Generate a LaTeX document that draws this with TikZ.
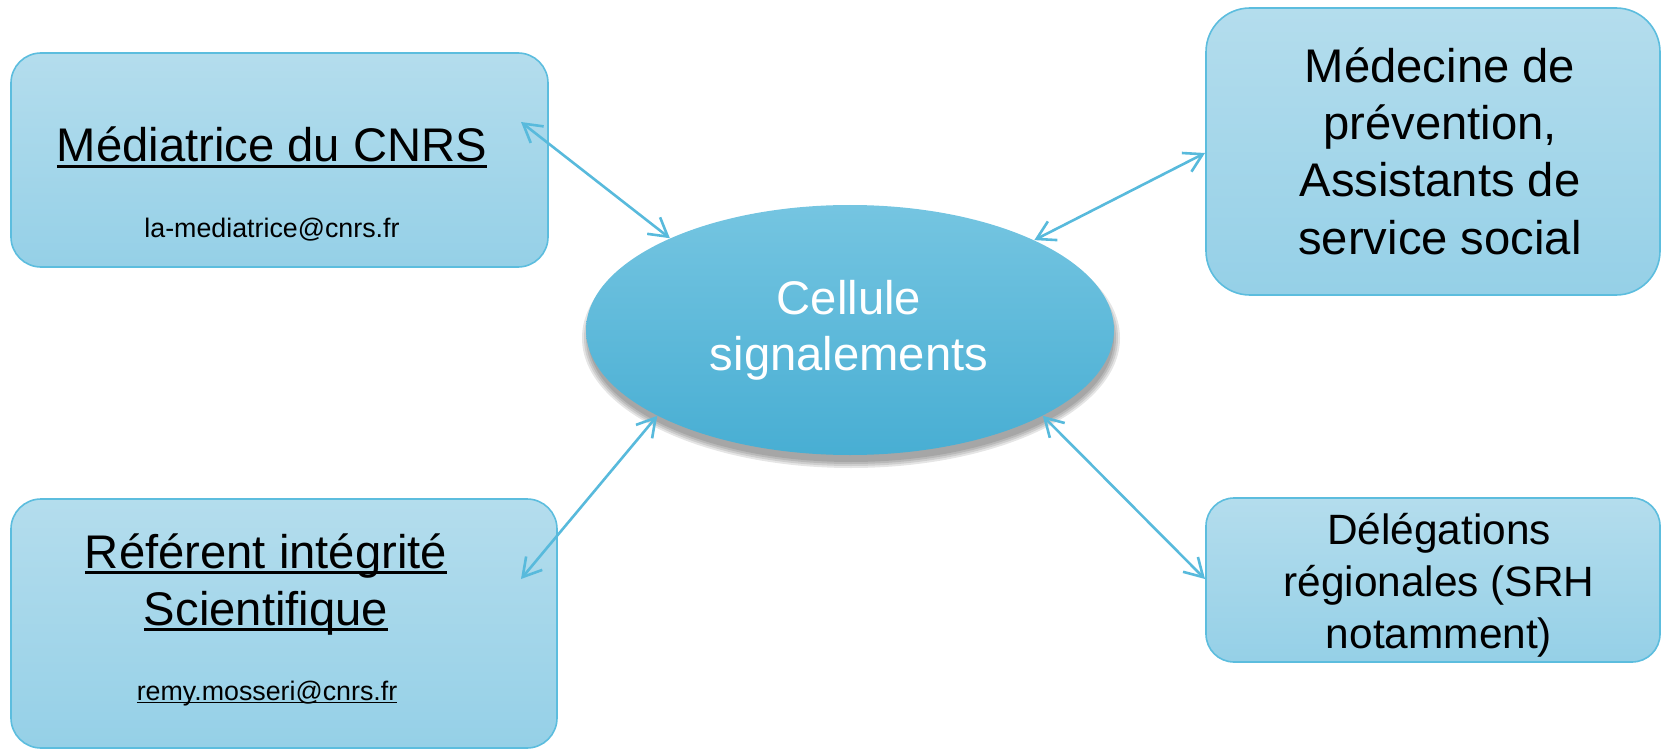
\documentclass[tikz,border=0pt]{standalone}
\usepackage{fontspec}
\setmainfont{Liberation Sans}
\usetikzlibrary{shapes.geometric,arrows.meta,fit}
\definecolor{boxtop}{RGB}{180,221,237}
\definecolor{boxbot}{RGB}{149,208,231}
\definecolor{edgec}{RGB}{92,189,222}
\definecolor{elltop}{RGB}{117,197,225}
\definecolor{ellbot}{RGB}{72,174,211}
\definecolor{arr}{RGB}{88,186,220}
\newcommand\ulx[1]{\setbox0=\hbox{#1}\rlap{\rule[-0.125em]{\wd0}{0.06em}}\box0}
\begin{document}
\begin{tikzpicture}[x=0.5pt,y=-0.5pt,
  boxnode/.style={draw=edgec, line width=0.8pt, top color=boxtop, bottom color=boxbot, inner sep=0pt},
  bigtxt/.style={font=\fontsize{23.6}{28}\selectfont, anchor=base, inner sep=0pt},
  smalltxt/.style={font=\fontsize{13.4}{16}\selectfont, anchor=base, inner sep=0pt},
  midtxt/.style={font=\fontsize{21.2}{26}\selectfont, anchor=base, inner sep=0pt},
  link/.style={draw=arr, line width=1.3pt, >={Straight Barb[length=9pt,width=10.5pt]}, <->}]
\useasboundingbox (0,0) rectangle (1661,749);

% boxes
\node[boxnode, rounded corners=15pt, fit={(11,53) (548,267)}] (box1) {};
\node[boxnode, rounded corners=22pt, fit={(1206,8) (1660,295)}] (box2) {};
\node[boxnode, rounded corners=15pt, fit={(11,499) (557,748)}] (box3) {};
\node[boxnode, rounded corners=14pt, fit={(1206,498) (1660,662)}] (box4) {};

% shadow of the central ellipse
\foreach \d in {6,4,2,0}
  \fill[black, opacity=0.1] (851,338) ellipse [x radius={263+\d}, y radius={124+\d}];

% central ellipse
\node[ellipse, minimum width=264pt, minimum height=125pt, inner sep=0pt,
      top color=elltop, bottom color=ellbot] (cell) at (850,330) {};

% texts
\node[bigtxt] (t1a) at (272,162) {\ulx{Médiatrice du CNRS}};
\node[smalltxt] (t1b) at (272,237) {la-mediatrice@cnrs.fr};

\node[bigtxt] (t2a) at (1440,83) {Médecine de};
\node[bigtxt] (t2b) at (1440,140) {prévention,};
\node[bigtxt] (t2c) at (1440,197) {Assistants de};
\node[bigtxt] (t2d) at (1440,254) {service social};

\node[bigtxt] (t3a) at (266,568) {\ulx{Référent intégrité}};
\node[bigtxt] (t3b) at (266,625) {\ulx{Scientifique}};
\node[smalltxt] (t3c) at (267,700) {\ulx{remy.mosseri@cnrs.fr}};

\node[midtxt] (t4a) at (1439,544) {Délégations};
\node[midtxt] (t4b) at (1439,596) {régionales (SRH};
\node[midtxt] (t4c) at (1439,648) {notamment)};

\node[bigtxt, text=white] (tca) at (849,314) {Cellule};
\node[bigtxt, text=white] (tcb) at (849,370) {signalements};

% connector ends inside the boxes
\coordinate (p1) at (521,122);
\coordinate (p2) at (1205,153);
\coordinate (p3) at (521,579);
\coordinate (p4) at (1205,579);

\draw[link] (p1) -- (cell.153);
\draw[link] (p2) -- (cell.26);
\draw[link] (p3) -- (cell.204);
\draw[link] (p4) -- (cell.336);
\end{tikzpicture}
\end{document}
